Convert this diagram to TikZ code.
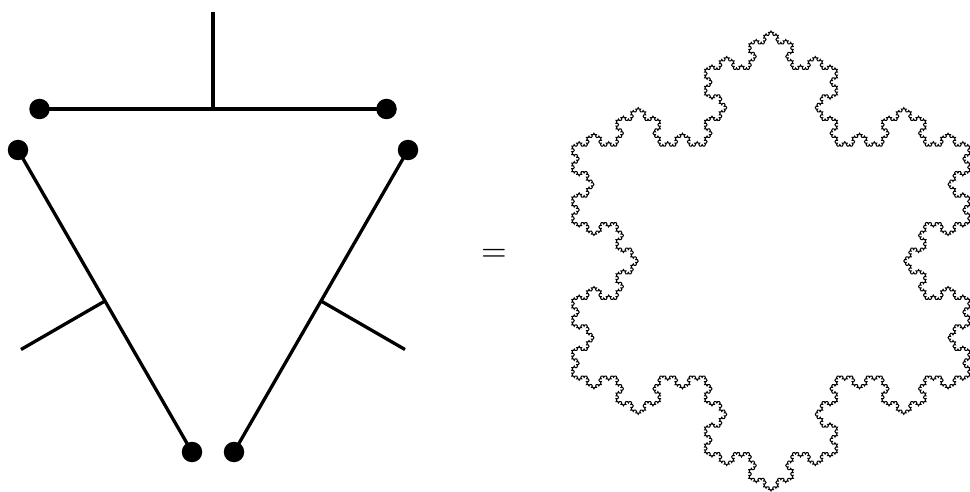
\documentclass[tikz,border=0pt]{standalone}
\usetikzlibrary{lindenmayersystems}
\pgfdeclarelindenmayersystem{KochFlake}{\rule{F -> F+F--F+F}}
\begin{document}
\begin{tikzpicture}[x=1pt,y=1pt,
  dot/.style={circle, fill=black, inner sep=0pt, minimum size=20.5pt},
  wire/.style={line width=3.3pt, black},
  flake/.style={line width=1pt, black, line join=miter}]
\useasboundingbox (0,0) rectangle (970,491);
\clip (0,0) rectangle (970,491);
% left diagram
\coordinate (a1) at (39.5,382);
\coordinate (a2) at (386.5,382);
\coordinate (b1) at (18,341);
\coordinate (b2) at (192,39);
\coordinate (c1) at (408,341);
\coordinate (c2) at (234,39);
\coordinate (ma) at (213,382);
\coordinate (mb) at (105,190);
\coordinate (mc) at (321,190);
\coordinate (ea) at (213,479);
\coordinate (eb) at (21,141.5);
\coordinate (ec) at (405,141.5);
\draw[wire] (a1) -- (a2);
\draw[wire] (b1) -- (b2);
\draw[wire] (c1) -- (c2);
\draw[wire] (ma) -- (ea);
\draw[wire] (mb) -- (eb);
\draw[wire] (mc) -- (ec);
\node[dot] (A1) at (a1) {};
\node[dot] (A2) at (a2) {};
\node[dot] (B1) at (b1) {};
\node[dot] (B2) at (b2) {};
\node[dot] (C1) at (c1) {};
\node[dot] (C2) at (c2) {};
% equals
\node[scale=3.3, inner sep=0pt] (eq) at (494,236) {$=$};
% Koch snowflake
\begin{scope}[shift={(771,460)}]
\draw[flake, l-system={KochFlake, axiom=-F--F--F, order=5, step=1.6395pt, angle=60}]
  (0,0) lindenmayer system -- cycle;
\end{scope}
\end{tikzpicture}
\end{document}
